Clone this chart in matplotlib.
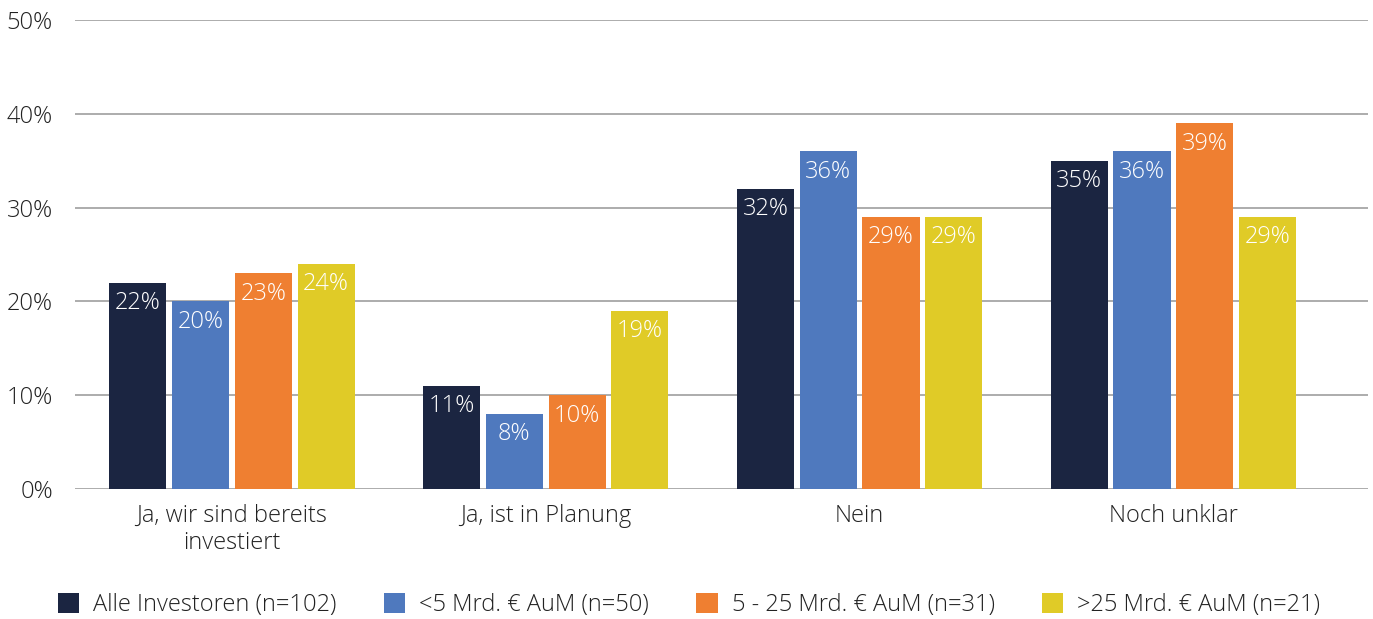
import matplotlib
matplotlib.use("Agg")
import matplotlib.pyplot as plt
import numpy as np
from matplotlib.patches import Patch

categories = ["Ja, wir sind bereits\ninvestiert", "Ja, ist in Planung", "Nein", "Noch unklar"]
series_names = ["Alle Investoren (n=102)", "<5 Mrd. € AuM (n=50)",
                "5 - 25 Mrd. € AuM (n=31)", ">25 Mrd. € AuM (n=21)"]
alle = [22, 11, 32, 35]
klein = [20, 8, 36, 36]
mittel = [23, 10, 29, 39]
gross = [24, 19, 29, 29]
y_ticks = [0, 10, 20, 30, 40, 50]

colors = ["#1B2541", "#4F79BE", "#EF7F31", "#E0CB27"]
values = [alle, klein, mittel, gross]

plt.rcParams["font.family"] = ["Open Sans", "DejaVu Sans"]
plt.rcParams["font.weight"] = "light"
fs = 17
txt = "#222222"

fig = plt.figure(figsize=(13.73, 6.19), dpi=100)
ax = fig.add_axes([75 / 1373, 1 - 489 / 619, (1368 - 75) / 1373, (489 - 20) / 619])

x = np.arange(len(categories))
pitch = 0.2
width = 0.182
for i, (vals, col) in enumerate(zip(values, colors)):
    pos = x + (i - 1.5) * pitch
    ax.bar(pos, vals, width=width, color=col, zorder=3)
    for px, v in zip(pos, vals):
        ax.annotate(f"{v}%", (px, v), xytext=(0, -6), textcoords="offset points",
                    ha="center", va="top", color="white", fontsize=fs, zorder=4)

ax.set_xlim(-0.5, 3.62)
ax.set_ylim(0, 50)
ax.set_yticks(y_ticks)
ax.set_yticklabels([f"{t}%" for t in y_ticks], fontsize=fs, color=txt)
ax.set_xticks(x)
ax.set_xticklabels(categories, fontsize=fs, color=txt, linespacing=1.15)
ax.tick_params(axis="both", length=0)
ax.tick_params(axis="y", pad=16)
ax.tick_params(axis="x", pad=11)
ax.yaxis.grid(True, color="#A6A6A6", linewidth=1.3, zorder=0)
for s in ax.spines.values():
    s.set_visible(False)

handles = [Patch(facecolor=c, edgecolor="none") for c in colors]
fig.legend(handles, series_names, loc="center", bbox_to_anchor=(0.502, 1 - 605 / 619),
           ncol=4, frameon=False, fontsize=fs, handlelength=0.9, handleheight=0.9,
           columnspacing=2.0, handletextpad=0.6, labelcolor=txt)

fig.savefig("out.png", dpi=100)
